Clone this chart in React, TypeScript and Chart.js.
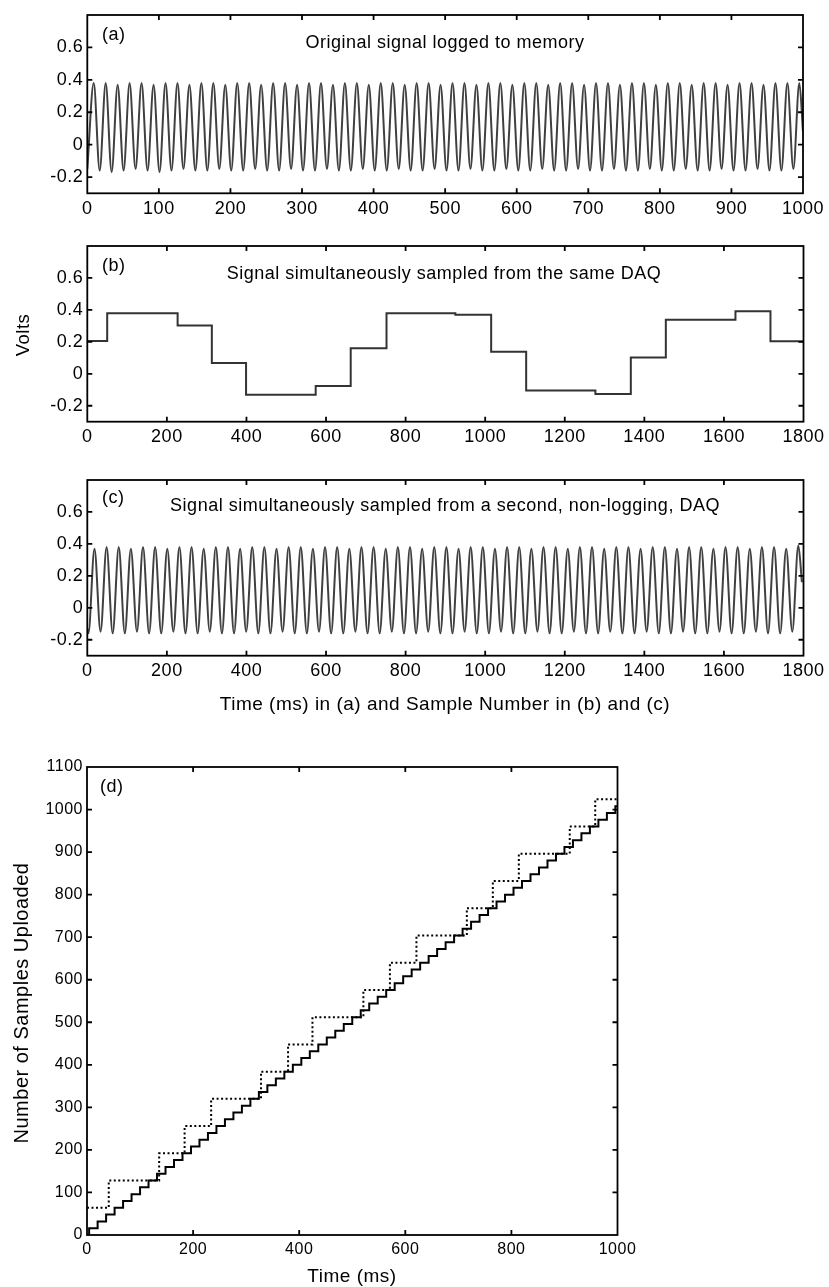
import React, { useEffect, useRef } from "react";
import { Chart, registerables } from "chart.js";
Chart.register(...registerables);

// ---------- Panel (a): original signal logged to memory (time in ms) ----------
const A_TROUGH_T = [
  0, 17.3, 34.0, 50.7, 67.4, 84.2, 100.9, 117.6, 134.3, 151.0,
  167.7, 184.4, 201.1, 217.8, 234.5, 251.3, 268.0, 284.7, 301.4, 318.1,
  334.8, 351.5, 368.2, 384.9, 401.6, 418.4, 435.1, 451.8, 468.5, 485.2,
  501.9, 518.6, 535.3, 552.0, 568.7, 585.5, 602.2, 618.9, 635.6, 652.3,
  669.0, 685.7, 702.4, 719.1, 735.8, 752.6, 769.3, 786.0, 802.7, 819.4,
  836.1, 852.8, 869.5, 886.2, 902.9, 919.7, 936.4, 953.1, 969.8, 986.5,
];
const A_TROUGH_V = [
  -0.15, -0.16, -0.17, -0.16, -0.15, -0.16, -0.17, -0.16, -0.15, -0.16,
  -0.16, -0.15, -0.16, -0.16, -0.15, -0.16, -0.16, -0.15, -0.16, -0.16,
  -0.15, -0.16, -0.16, -0.15, -0.16, -0.16, -0.15, -0.16, -0.16, -0.15,
  -0.16, -0.16, -0.15, -0.16, -0.16, -0.15, -0.16, -0.16, -0.15, -0.16,
  -0.16, -0.15, -0.16, -0.16, -0.15, -0.16, -0.16, -0.15, -0.16, -0.16,
  -0.15, -0.16, -0.16, -0.15, -0.16, -0.16, -0.15, -0.16, -0.16, -0.15,
];
const A_PEAK_T = [
  9.0, 25.7, 42.4, 59.1, 75.8, 92.6, 109.3, 126.0, 142.7, 159.4,
  176.1, 192.8, 209.5, 226.2, 242.9, 259.7, 276.4, 293.1, 309.8, 326.5,
  343.2, 359.9, 376.6, 393.3, 410.0, 426.8, 443.5, 460.2, 476.9, 493.6,
  510.3, 527.0, 543.7, 560.4, 577.1, 593.9, 610.6, 627.3, 644.0, 660.7,
  677.4, 694.1, 710.8, 727.5, 744.2, 761.0, 777.7, 794.4, 811.1, 827.8,
  844.5, 861.2, 877.9, 894.6, 911.3, 928.1, 944.8, 961.5, 978.2, 994.9,
];
const A_PEAK_V = [
  0.38, 0.38, 0.37, 0.38, 0.38, 0.37, 0.38, 0.38, 0.37, 0.38,
  0.38, 0.37, 0.38, 0.38, 0.37, 0.38, 0.38, 0.37, 0.38, 0.38,
  0.37, 0.38, 0.38, 0.37, 0.38, 0.38, 0.37, 0.38, 0.38, 0.37,
  0.38, 0.38, 0.37, 0.38, 0.38, 0.37, 0.38, 0.38, 0.37, 0.38,
  0.38, 0.37, 0.38, 0.38, 0.37, 0.38, 0.38, 0.37, 0.38, 0.38,
  0.37, 0.38, 0.38, 0.37, 0.38, 0.38, 0.37, 0.38, 0.38, 0.38,
];
const A_END = { x: 1000, y: 0.08 };

// ---------- Panel (b): signal sampled from the same DAQ (sample number) ----------
const B_T = [0, 50, 227, 313, 399, 574, 662, 752, 925, 1015, 1103, 1277, 1366, 1454, 1629, 1717, 1800];
const B_V = [0.206, 0.379, 0.302, 0.067, -0.131, -0.077, 0.16, 0.379, 0.369, 0.138, -0.104, -0.127, 0.102, 0.338, 0.392, 0.204, 0.204];

// ---------- Panel (c): signal sampled from a second DAQ (sample number) ----------
const C_START = { x: 0, y: -0.13 };
const C_TROUGH_T = [
  2.8, 33.3, 63.8, 94.3, 124.8, 155.3, 185.8, 216.3, 246.8, 277.3,
  307.8, 338.3, 368.8, 399.3, 429.8, 460.3, 490.8, 521.3, 551.8, 582.3,
  612.8, 643.3, 673.8, 704.3, 734.8, 765.3, 795.8, 826.3, 856.8, 887.3,
  917.8, 948.3, 978.8, 1009.3, 1039.8, 1070.3, 1100.8, 1131.3, 1161.8, 1192.3,
  1222.8, 1253.3, 1283.8, 1314.3, 1344.8, 1375.3, 1405.8, 1436.3, 1466.8, 1497.3,
  1527.8, 1558.3, 1588.8, 1619.3, 1649.8, 1680.3, 1710.8, 1741.3, 1771.8,
];
const C_TROUGH_V = [
  -0.16, -0.15, -0.16, -0.16, -0.15, -0.16, -0.16, -0.15, -0.16, -0.16,
  -0.15, -0.16, -0.16, -0.15, -0.16, -0.16, -0.15, -0.16, -0.16, -0.15,
  -0.16, -0.16, -0.15, -0.16, -0.16, -0.15, -0.16, -0.16, -0.15, -0.16,
  -0.16, -0.15, -0.16, -0.16, -0.15, -0.16, -0.16, -0.15, -0.16, -0.16,
  -0.15, -0.16, -0.16, -0.15, -0.16, -0.16, -0.15, -0.16, -0.16, -0.15,
  -0.16, -0.16, -0.15, -0.16, -0.16, -0.15, -0.16, -0.16, -0.15,
];
const C_PEAK_T = [
  18.0, 48.5, 79.0, 109.5, 140.0, 170.5, 201.0, 231.5, 262.0, 292.5,
  323.0, 353.5, 384.0, 414.5, 445.0, 475.5, 506.0, 536.5, 567.0, 597.5,
  628.0, 658.5, 689.0, 719.5, 750.0, 780.5, 811.0, 841.5, 872.0, 902.5,
  933.0, 963.5, 994.0, 1024.5, 1055.0, 1085.5, 1116.0, 1146.5, 1177.0, 1207.5,
  1238.0, 1268.5, 1299.0, 1329.5, 1360.0, 1390.5, 1421.0, 1451.5, 1482.0, 1512.5,
  1543.0, 1573.5, 1604.0, 1634.5, 1665.0, 1695.5, 1726.0, 1756.5, 1787.0,
];
const C_PEAK_V = [
  0.37, 0.38, 0.38, 0.37, 0.38, 0.38, 0.37, 0.38, 0.38, 0.37,
  0.38, 0.38, 0.37, 0.38, 0.38, 0.37, 0.38, 0.38, 0.37, 0.38,
  0.38, 0.37, 0.38, 0.38, 0.37, 0.38, 0.38, 0.37, 0.38, 0.38,
  0.37, 0.38, 0.38, 0.37, 0.38, 0.38, 0.37, 0.38, 0.38, 0.37,
  0.38, 0.38, 0.37, 0.38, 0.38, 0.37, 0.38, 0.38, 0.37, 0.38,
  0.38, 0.37, 0.38, 0.38, 0.37, 0.38, 0.38, 0.37, 0.39,
];
const C_END = { x: 1796, y: 0.16 };

// ---------- Panel (d): number of samples uploaded vs time ----------
const D_SOLID_T = [
  0, 4, 20, 36, 52, 68, 84, 100, 116, 132, 148, 164, 180, 196, 212, 228,
  244, 260, 276, 292, 308, 324, 340, 356, 372, 388, 404, 420, 436, 452, 468, 484,
  500, 516, 532, 548, 564, 580, 596, 612, 628, 644, 660, 676, 692, 708, 724, 740,
  756, 772, 788, 804, 820, 836, 852, 868, 884, 900, 916, 932, 948, 964, 980, 996, 1000,
];
const D_SOLID_V = [
  0, 16, 32, 48, 64, 80, 96, 112, 128, 144, 160, 176, 192, 208, 224, 240,
  256, 272, 288, 304, 320, 336, 352, 368, 384, 400, 416, 432, 448, 464, 480, 496,
  512, 528, 544, 560, 576, 592, 608, 624, 640, 656, 672, 688, 704, 720, 736, 752,
  768, 784, 800, 816, 832, 848, 864, 880, 896, 912, 928, 944, 960, 976, 992, 1008, 1008,
];
const D_DOT_T = [0, 41, 136, 184, 234, 328, 379, 425, 521, 571, 621, 716, 765, 814, 910, 958, 1000];
const D_DOT_V = [64, 128, 192, 256, 320, 384, 448, 512, 576, 640, 704, 768, 832, 896, 960, 1024, 1024];

// ---------- tick labels ----------
const A_XTICKS = [0, 100, 200, 300, 400, 500, 600, 700, 800, 900, 1000];
const BC_XTICKS = [0, 200, 400, 600, 800, 1000, 1200, 1400, 1600, 1800];
const VOLT_TICKS = [-0.2, 0, 0.2, 0.4, 0.6];
const D_XTICKS = [0, 200, 400, 600, 800, 1000];
const D_YTICKS = [0, 100, 200, 300, 400, 500, 600, 700, 800, 900, 1000, 1100];

const FONT = '"Liberation Sans", Arial, Helvetica, sans-serif';
const SPACING = "0.5px";

function zipXY(t: number[], v: number[]) {
  return t.map((x, i) => ({ x, y: v[i] }));
}
function interleave(tt: number[], tv: number[], pt: number[], pv: number[]) {
  const out: { x: number; y: number }[] = [];
  for (let i = 0; i < Math.max(tt.length, pt.length); i++) {
    if (i < tt.length) out.push({ x: tt[i], y: tv[i] });
    if (i < pt.length) out.push({ x: pt[i], y: pv[i] });
  }
  return out;
}

type TextItem = { text: string; x: number; y: number; size: number; align?: CanvasTextAlign; rotate?: number };

const boxPlugin = {
  id: "matlabBox",
  beforeDraw(chart: any) {
    (chart.ctx as any).letterSpacing = SPACING;
  },
  afterDatasetsDraw(chart: any, _args: any, opts: any) {
    const { ctx, chartArea } = chart;
    const { left, right, top, bottom } = chartArea;
    const tl = 5;
    ctx.save();
    ctx.strokeStyle = "#000";
    ctx.lineWidth = 1.8;
    ctx.strokeRect(left, top, right - left, bottom - top);
    ctx.beginPath();
    const xs = chart.scales.x;
    const ys = chart.scales.y;
    xs.ticks.forEach((t: any) => {
      const px = xs.getPixelForValue(t.value);
      if (px <= left + 1 || px >= right - 1) return;
      ctx.moveTo(px, bottom);
      ctx.lineTo(px, bottom - tl);
      ctx.moveTo(px, top);
      ctx.lineTo(px, top + tl);
    });
    ys.ticks.forEach((t: any) => {
      const py = ys.getPixelForValue(t.value);
      if (py <= top + 1 || py >= bottom - 1) return;
      ctx.moveTo(left, py);
      ctx.lineTo(left + tl, py);
      ctx.moveTo(right, py);
      ctx.lineTo(right - tl, py);
    });
    ctx.stroke();
    const texts: TextItem[] = (opts && opts.texts) || [];
    ctx.fillStyle = "#000";
    ctx.textBaseline = "middle";
    (ctx as any).letterSpacing = SPACING;
    texts.forEach((it) => {
      ctx.save();
      ctx.font = `${it.size}px ${FONT}`;
      ctx.textAlign = it.align || "left";
      ctx.translate(it.x, it.y);
      if (it.rotate) ctx.rotate(it.rotate);
      ctx.fillText(it.text, 0, 0);
      ctx.restore();
    });
    ctx.restore();
  },
};

type PanelDef = {
  top: number;
  height: number;
  yAxisW: number;
  xAxisH: number;
  padTop: number;
  padRight: number;
  xMin: number;
  xMax: number;
  xTicks: number[];
  yMin: number;
  yMax: number;
  yTicks: number[];
  tickSize: number;
  datasets: any[];
  texts: TextItem[];
};

function makeConfig(p: PanelDef): any {
  return {
    type: "line",
    data: { datasets: p.datasets },
    options: {
      animation: false,
      responsive: false,
      devicePixelRatio: 1,
      events: [],
      parsing: true,
      layout: { padding: { left: 0, right: p.padRight, top: p.padTop, bottom: 0 } },
      plugins: {
        legend: { display: false },
        tooltip: { enabled: false },
        title: { display: false },
        matlabBox: { texts: p.texts },
      },
      elements: { point: { radius: 0 } },
      scales: {
        x: {
          type: "linear",
          min: p.xMin,
          max: p.xMax,
          grid: { display: false, drawTicks: false },
          border: { display: false },
          afterBuildTicks: (s: any) => {
            s.ticks = p.xTicks.map((v) => ({ value: v }));
          },
          afterFit: (s: any) => {
            s.height = p.xAxisH;
            s.paddingLeft = 0;
            s.paddingRight = 0;
            s.paddingTop = 0;
            s.paddingBottom = 0;
          },
          ticks: {
            color: "#000",
            padding: 5,
            maxRotation: 0,
            autoSkip: false,
            font: { family: FONT, size: p.tickSize },
            callback: (v: any) => String(v),
          },
        },
        y: {
          type: "linear",
          min: p.yMin,
          max: p.yMax,
          grid: { display: false, drawTicks: false },
          border: { display: false },
          afterBuildTicks: (s: any) => {
            s.ticks = p.yTicks.map((v) => ({ value: v }));
          },
          afterFit: (s: any) => {
            s.width = p.yAxisW;
            s.paddingLeft = 0;
            s.paddingRight = 0;
            s.paddingTop = 0;
            s.paddingBottom = 0;
          },
          ticks: {
            color: "#000",
            padding: 4,
            autoSkip: false,
            font: { family: FONT, size: p.tickSize },
            callback: (v: any) => String(v),
          },
        },
      },
    },
    plugins: [boxPlugin],
  };
}

function Panel({ def }: { def: PanelDef }) {
  const ref = useRef<HTMLCanvasElement | null>(null);
  useEffect(() => {
    if (!ref.current) return;
    const chart = new Chart(ref.current, makeConfig(def));
    return () => chart.destroy();
  }, [def]);
  return (
    <canvas
      ref={ref}
      width={829}
      height={def.height}
      style={{ position: "absolute", left: 0, top: def.top, width: 829, height: def.height }}
    />
  );
}

const SINE_STYLE = {
  borderColor: "#404040",
  borderWidth: 2,
  fill: false,
  cubicInterpolationMode: "monotone",
  pointRadius: 0,
};

const PANELS: PanelDef[] = [
  {
    top: 0,
    height: 228,
    yAxisW: 87.3,
    xAxisH: 34.7,
    padTop: 15,
    padRight: 26,
    xMin: 0,
    xMax: 1000,
    xTicks: A_XTICKS,
    yMin: -0.3,
    yMax: 0.8,
    yTicks: VOLT_TICKS,
    tickSize: 18,
    datasets: [
      { ...SINE_STYLE, data: [...interleave(A_TROUGH_T, A_TROUGH_V, A_PEAK_T, A_PEAK_V), A_END] },
    ],
    texts: [
      { text: "(a)", x: 102, y: 35.5, size: 18 },
      { text: "Original signal logged to memory", x: 445, y: 43, size: 18, align: "center" },
    ],
  },
  {
    top: 228,
    height: 226,
    yAxisW: 87.3,
    xAxisH: 32.3,
    padTop: 18,
    padRight: 25.5,
    xMin: 0,
    xMax: 1800,
    xTicks: BC_XTICKS,
    yMin: -0.3,
    yMax: 0.8,
    yTicks: VOLT_TICKS,
    tickSize: 18,
    datasets: [
      {
        data: zipXY(B_T, B_V),
        borderColor: "#333333",
        borderWidth: 2,
        fill: false,
        stepped: "before",
        pointRadius: 0,
      },
    ],
    texts: [
      { text: "(b)", x: 102, y: 38, size: 18 },
      { text: "Signal simultaneously sampled from the same DAQ", x: 444, y: 46, size: 18, align: "center" },
      { text: "Volts", x: 23.5, y: 107, size: 18.5, align: "center", rotate: -Math.PI / 2 },
    ],
  },
  {
    top: 454,
    height: 266,
    yAxisW: 87.3,
    xAxisH: 64.3,
    padTop: 26,
    padRight: 25.5,
    xMin: 0,
    xMax: 1800,
    xTicks: BC_XTICKS,
    yMin: -0.3,
    yMax: 0.8,
    yTicks: VOLT_TICKS,
    tickSize: 18,
    datasets: [
      { ...SINE_STYLE, data: [C_START, ...interleave(C_TROUGH_T, C_TROUGH_V, C_PEAK_T, C_PEAK_V), C_END] },
    ],
    texts: [
      { text: "(c)", x: 102, y: 44, size: 18 },
      {
        text: "Signal simultaneously sampled from a second, non-logging, DAQ",
        x: 445,
        y: 52,
        size: 18,
        align: "center",
      },
      {
        text: "Time (ms) in (a) and Sample Number in (b) and (c)",
        x: 445,
        y: 251,
        size: 19,
        align: "center",
      },
    ],
  },
  {
    top: 720,
    height: 567,
    yAxisW: 87,
    xAxisH: 52,
    padTop: 47,
    padRight: 211.5,
    xMin: 0,
    xMax: 1000,
    xTicks: D_XTICKS,
    yMin: 0,
    yMax: 1100,
    yTicks: D_YTICKS,
    tickSize: 16,
    datasets: [
      {
        data: zipXY(D_DOT_T, D_DOT_V),
        borderColor: "#000",
        borderWidth: 2,
        borderDash: [2, 2.5],
        fill: false,
        stepped: "before",
        pointRadius: 0,
      },
      {
        data: zipXY(D_SOLID_T, D_SOLID_V),
        borderColor: "#000",
        borderWidth: 2,
        fill: false,
        stepped: "before",
        pointRadius: 0,
      },
    ],
    texts: [
      { text: "(d)", x: 100, y: 67.5, size: 18 },
      { text: "Time (ms)", x: 352, y: 557, size: 19, align: "center" },
      {
        text: "Number of Samples Uploaded",
        x: 22.5,
        y: 283,
        size: 20,
        align: "center",
        rotate: -Math.PI / 2,
      },
    ],
  },
];

export default function App() {
  return (
    <div style={{ position: "absolute", left: 0, top: 0, width: 829, height: 1287, background: "#fff" }}>
      {PANELS.map((p, i) => (
        <Panel key={i} def={p} />
      ))}
    </div>
  );
}
